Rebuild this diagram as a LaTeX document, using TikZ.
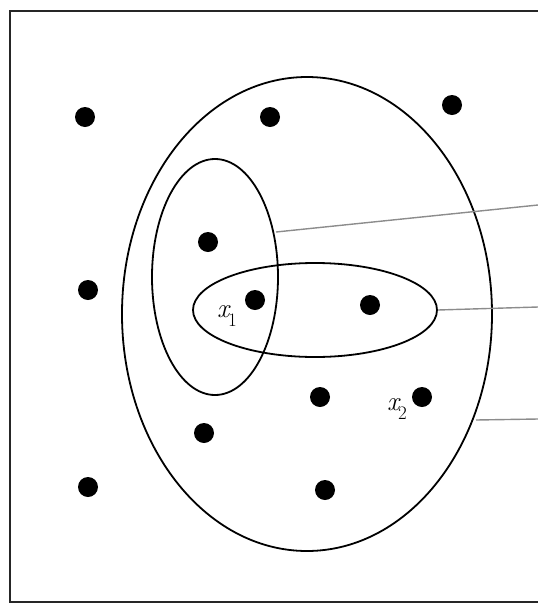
\documentclass[tikz,border=0pt]{standalone}
\usetikzlibrary{shapes.geometric}
\newcommand{\varsub}[2]{{\itshape #1}\kern-1pt\raisebox{-0.32em}{\fontsize{19}{19}\selectfont #2}}
\begin{document}
\begin{tikzpicture}[x=1pt,y=-1pt,
  curve/.style={draw=black,line width=1.8pt,ellipse,inner sep=0pt},
  pointer/.style={draw=black!45,line width=1.4pt},
  frameline/.style={draw=black!85,line width=2.5pt},
  dot/.style={circle,fill=black,inner sep=0pt,minimum size=20pt},
  lab/.style={inner sep=0pt,font=\fontsize{27}{27}\selectfont}]
\useasboundingbox (0,0) rectangle (538,606);
\draw[frameline] (540,11) -- (10,11) -- (10,602) -- (540,602);
% ellipses
\node[curve,minimum width=370pt,minimum height=474pt] (big) at (307,314) {};
\node[curve,minimum width=126pt,minimum height=236pt] (vert) at (215,277) {};
\node[curve,minimum width=244pt,minimum height=94pt] (hor) at (315,310) {};
% pointer lines
\coordinate (s1) at (276,232);
\coordinate (s3) at (476,420);
\coordinate (e1) at (538,205);
\coordinate (e2) at (538,307);
\coordinate (e3) at (538,419);
\draw[pointer] (s1) -- (e1);
\draw[pointer] (hor.east) -- (e2);
\draw[pointer] (s3) -- (e3);
% dots
\node[dot] (p1) at (85,117) {};
\node[dot] (p2) at (270,117) {};
\node[dot] (p3) at (452,105) {};
\node[dot] (p4) at (208,242) {};
\node[dot] (p5) at (88,290) {};
\node[dot] (p6) at (255,300) {};
\node[dot] (p7) at (370,305) {};
\node[dot] (p8) at (320,397) {};
\node[dot] (p9) at (422,397) {};
\node[dot] (p10) at (204,433) {};
\node[dot] (p11) at (88,487) {};
\node[dot] (p12) at (325,490) {};
% labels
\node[lab] (l1) at (227,316) {\varsub{x}{1}};
\node[lab] (l2) at (397,409) {\varsub{x}{2}};
\end{tikzpicture}
\end{document}
